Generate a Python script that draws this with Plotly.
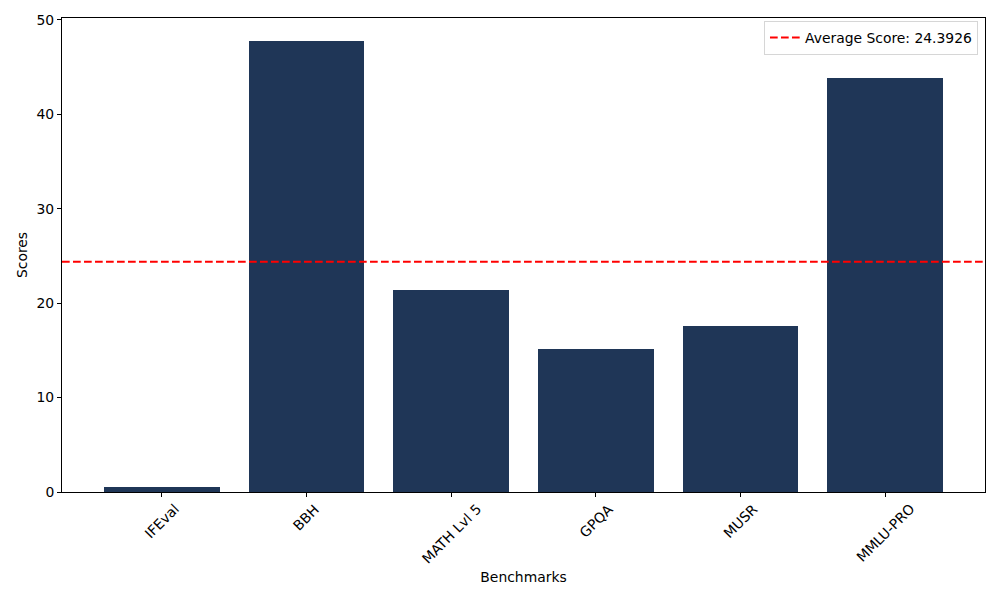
import plotly.graph_objects as go

benchmarks = ["IFEval", "BBH", "MATH Lvl 5", "GPQA", "MUSR", "MMLU-PRO"]
scores = [0.52, 47.80, 21.40, 15.15, 17.60, 43.89]
average_score = 24.3926

bar_color = "#1f3657"
font_family = "DejaVu Sans, Liberation Sans, sans-serif"
fs = 13.9

fig = go.Figure()
fig.add_trace(go.Bar(
    x=list(range(len(benchmarks))), y=scores, width=0.8,
    marker=dict(color=bar_color, line=dict(width=0)),
    showlegend=False,
))
fig.add_shape(
    type="line", xref="paper", x0=0, x1=1, yref="y",
    y0=average_score, y1=average_score,
    line=dict(color="red", width=2, dash="7.7px,3.3px"),
    showlegend=True, name=f"Average Score: {average_score}",
)

# rotated category labels centred under each tick (matplotlib style)
for i, name in enumerate(benchmarks):
    fig.add_annotation(
        x=i, xref="x", y=0, yref="paper",
        text=name, textangle=-45, showarrow=False,
        xanchor="center", yanchor="top", yshift=-6,
        font=dict(family=font_family, size=fs, color="black"),
    )

fig.update_layout(
    width=992, height=592,
    margin=dict(l=54, r=15, t=10, b=108, autoexpand=False),
    paper_bgcolor="white", plot_bgcolor="white",
    font=dict(family=font_family, size=fs, color="black"),
    bargap=0,
    legend=dict(
        x=0.9924, y=0.9935, xanchor="right", yanchor="top",
        bgcolor="rgba(255,255,255,0.8)", bordercolor="#d6d6d6", borderwidth=1,
        font=dict(size=fs), itemwidth=30,
    ),
)
fig.update_xaxes(
    range=[-0.69, 5.69],
    tickmode="array", tickvals=list(range(len(benchmarks))),
    showticklabels=False,
    showline=True, linecolor="black", linewidth=1, mirror=True,
    ticks="outside", ticklen=4, tickcolor="black",
    showgrid=False, zeroline=False,
    title=dict(text="Benchmarks", font=dict(size=fs), standoff=76),
)
fig.update_yaxes(
    range=[0, 50.19],
    tickvals=[0, 10, 20, 30, 40, 50],
    showline=True, linecolor="black", linewidth=1, mirror=True,
    ticks="outside", ticklen=4, tickcolor="black",
    showgrid=False, zeroline=False,
    title=dict(text="Scores", font=dict(size=fs), standoff=5),
)

fig.write_html("out.html")
